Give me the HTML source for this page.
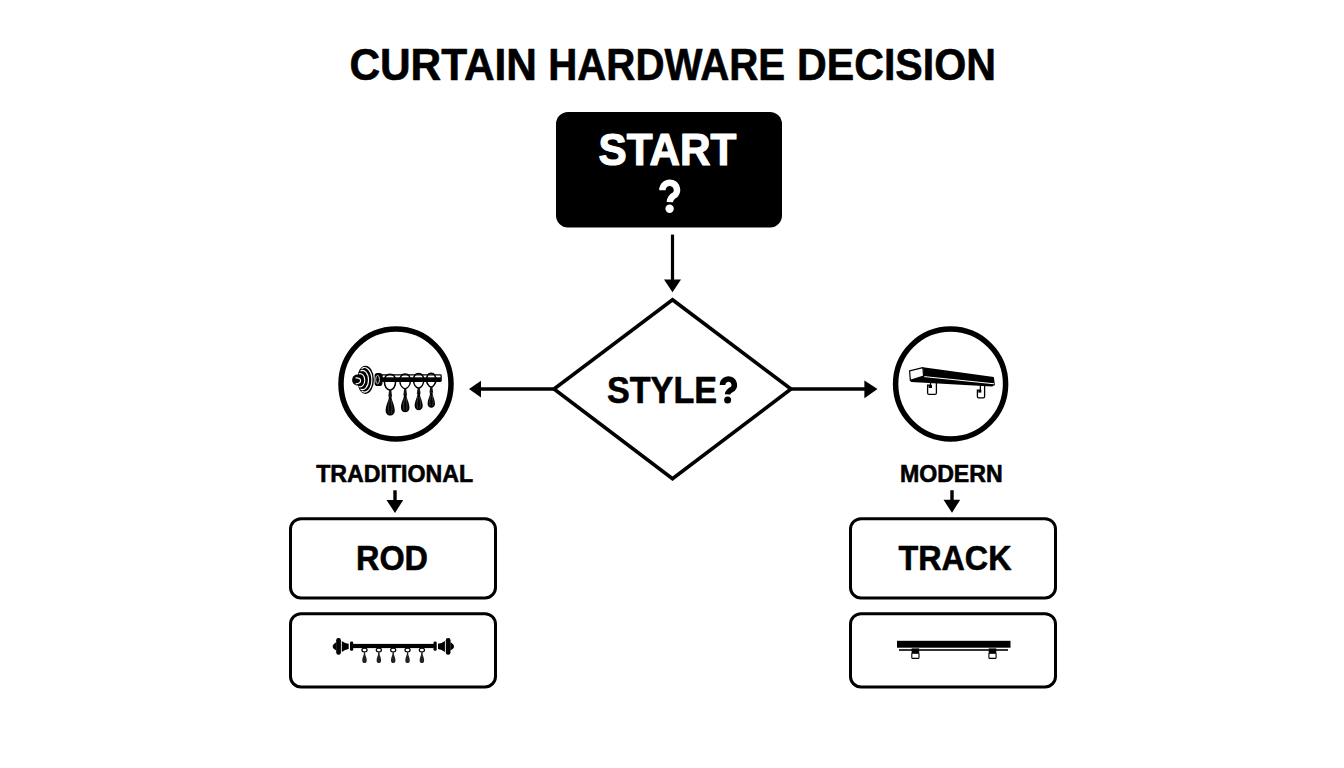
<!DOCTYPE html>
<html>
<head>
<meta charset="utf-8">
<style>
html,body{margin:0;padding:0;background:#fff;width:1344px;height:768px;overflow:hidden;}
svg{display:block;}
text{font-family:"Liberation Sans",sans-serif;font-weight:bold;fill:#000;stroke:#000;stroke-width:0.6;stroke-linejoin:round;}
</style>
</head>
<body>
<svg width="1344" height="768" viewBox="0 0 1344 768">
<rect x="0" y="0" width="1344" height="768" fill="#fff"/>

<!-- Title -->
<text x="349.4" y="79.7" font-size="44" textLength="187.6" lengthAdjust="spacingAndGlyphs">CURTAIN</text>
<text x="548.2" y="79.7" font-size="44" textLength="237" lengthAdjust="spacingAndGlyphs">HARDWARE</text>
<text x="797" y="79.7" font-size="44" textLength="199" lengthAdjust="spacingAndGlyphs">DECISION</text>

<!-- START box -->
<rect x="556" y="112" width="226" height="115.6" rx="12" ry="12" fill="#000"/>
<text id="t-start" x="598.6" y="165.0" font-size="44.2" textLength="137.8" lengthAdjust="spacingAndGlyphs" style="fill:#fff;stroke:#fff;stroke-width:1.2;stroke-linejoin:round">START</text>
<path id="t-q" d="M662.4,190.2 A7.3,7.3 0 1 1 675.4,194.6 Q670.0,197.4 669.8,202.2" fill="none" stroke="#fff" stroke-width="6.4" stroke-linejoin="round"/>
<circle cx="669.6" cy="208.8" r="4.2" fill="#fff"/>

<!-- arrow down -->
<line x1="672.5" y1="234.6" x2="672.5" y2="281" stroke="#000" stroke-width="3.2"/>
<polygon points="664,279.5 681,279.5 672.5,292.3" fill="#000"/>

<!-- diamond -->
<polygon points="672.5,299.8 791,389 672.5,478.8 554,389" fill="none" stroke="#000" stroke-width="3.6" stroke-linejoin="miter" stroke-miterlimit="10"/>
<text id="t-style" x="607" y="402.6" font-size="37" textLength="110" lengthAdjust="spacingAndGlyphs">STYLE</text>
<path d="M722.5,385.0 A5.9,5.9 0 1 1 732.9,388.8 Q727.8,391.4 727.6,394.4" fill="none" stroke="#000" stroke-width="5.6" stroke-linejoin="round"/>
<circle cx="727.6" cy="399.9" r="3.5" fill="#000"/>

<!-- side arrows -->
<line x1="554" y1="389" x2="479" y2="389" stroke="#000" stroke-width="3.3"/>
<polygon points="469,389 481,380.7 481,397.4" fill="#000"/>
<line x1="791" y1="389" x2="866" y2="389" stroke="#000" stroke-width="3.3"/>
<polygon points="877.5,389 864.4,380.4 864.4,398.2" fill="#000"/>

<!-- circles -->
<circle cx="396" cy="384" r="55" fill="#fff" stroke="#000" stroke-width="5.5"/>
<circle cx="950.6" cy="384" r="55" fill="#fff" stroke="#000" stroke-width="5.5"/>

<!-- labels -->
<text id="t-trad" x="316.2" y="482" font-size="24" textLength="157" lengthAdjust="spacingAndGlyphs">TRADITIONAL</text>
<text id="t-mod" x="899.9" y="482" font-size="24" textLength="102.8" lengthAdjust="spacingAndGlyphs">MODERN</text>

<!-- small arrows -->
<line x1="395" y1="490.3" x2="395" y2="502" stroke="#000" stroke-width="3.4"/>
<polygon points="386.5,500 403.2,500 395,513" fill="#000"/>
<line x1="952" y1="490.2" x2="952" y2="502" stroke="#000" stroke-width="3.4"/>
<polygon points="943.5,499.8 960.2,499.8 952,512.8" fill="#000"/>

<!-- boxes -->
<rect x="290.5" y="518.7" width="205" height="79.3" rx="10.5" fill="none" stroke="#000" stroke-width="3"/>
<rect x="290.5" y="613.7" width="205" height="73.2" rx="10.5" fill="none" stroke="#000" stroke-width="3"/>
<rect x="850.5" y="518.7" width="205" height="79.3" rx="10.5" fill="none" stroke="#000" stroke-width="3"/>
<rect x="850.5" y="613.7" width="205" height="73.2" rx="10.5" fill="none" stroke="#000" stroke-width="3"/>

<text id="t-rod" x="356" y="569.8" font-size="35" textLength="72" lengthAdjust="spacingAndGlyphs">ROD</text>
<text id="t-track" x="898.5" y="569.6" font-size="35" textLength="113" lengthAdjust="spacingAndGlyphs">TRACK</text>

<!--ICONS-->
<g id="rod-circle">
<rect x="380" y="374.3" width="61.8" height="7.7" rx="1.4" fill="#000"/>
<rect x="382.5" y="375.5" width="58" height="1.8" fill="#fff"/>
<path d="M390.00,390.30 C386.64,389.30 384.40,385.80 384.40,381.30 C384.40,375.80 386.92,374.30 390.00,374.30 C393.08,374.30 395.60,375.80 395.60,381.30 C395.60,385.80 393.36,389.30 390.00,390.30 Z" fill="none" stroke="#000" stroke-width="1.5" stroke-linejoin="round"/>
<path d="M405.10,389.00 C401.98,388.00 399.90,384.50 399.90,381.00 C399.90,375.50 402.24,374.00 405.10,374.00 C407.96,374.00 410.30,375.50 410.30,381.00 C410.30,384.50 408.22,388.00 405.10,389.00 Z" fill="none" stroke="#000" stroke-width="1.5" stroke-linejoin="round"/>
<path d="M418.60,388.30 C415.54,387.30 413.50,383.80 413.50,380.60 C413.50,375.10 415.80,373.60 418.60,373.60 C421.41,373.60 423.70,375.10 423.70,380.60 C423.70,383.80 421.66,387.30 418.60,388.30 Z" fill="none" stroke="#000" stroke-width="1.5" stroke-linejoin="round"/>
<path d="M431.20,387.30 C428.44,386.30 426.60,382.80 426.60,380.20 C426.60,374.70 428.67,373.20 431.20,373.20 C433.73,373.20 435.80,374.70 435.80,380.20 C435.80,382.80 433.96,386.30 431.20,387.30 Z" fill="none" stroke="#000" stroke-width="1.5" stroke-linejoin="round"/>
<path d="M389.20,389.80 L391.20,389.80 L392.10,396.80 L388.30,396.80 Z" fill="#111"/>
<path d="M391.40,396.40 C391.47,400.40 394.75,404.80 394.75,410.40 C394.75,417.20 385.65,417.20 385.65,410.40 C385.65,404.80 388.93,400.40 389.00,396.40 Z" fill="#000"/>
<path d="M389.40,399.40 Q387.80,408.40 389.00,413.90 M391.10,399.40 Q392.80,408.40 391.60,413.90" fill="none" stroke="#fff" stroke-width="0.45" opacity="0.5"/>
<path d="M404.20,388.50 L406.20,388.50 L407.10,395.50 L403.30,395.50 Z" fill="#111"/>
<path d="M406.40,395.10 C406.39,398.68 409.45,402.62 409.45,407.63 C409.45,413.72 400.95,413.72 400.95,407.63 C400.95,402.62 404.01,398.68 404.00,395.10 Z" fill="#000"/>
<path d="M404.40,398.10 Q402.80,406.05 404.00,410.50 M406.10,398.10 Q407.80,406.05 406.60,410.50" fill="none" stroke="#fff" stroke-width="0.45" opacity="0.5"/>
<path d="M417.70,387.80 L419.70,387.80 L420.60,394.10 L416.80,394.10 Z" fill="#111"/>
<path d="M419.90,393.70 C419.83,397.16 422.75,400.97 422.75,405.81 C422.75,411.69 414.65,411.69 414.65,405.81 C414.65,400.97 417.57,397.16 417.50,393.70 Z" fill="#000"/>
<path d="M417.90,396.70 Q416.30,404.35 417.50,408.50 M419.60,396.70 Q421.30,404.35 420.10,408.50" fill="none" stroke="#fff" stroke-width="0.45" opacity="0.5"/>
<path d="M430.30,386.80 L432.30,386.80 L433.20,392.80 L429.40,392.80 Z" fill="#111"/>
<path d="M432.50,392.40 C432.34,395.64 435.00,399.20 435.00,403.74 C435.00,409.25 427.60,409.25 427.60,403.74 C427.60,399.20 430.26,395.64 430.10,392.40 Z" fill="#000"/>
<path d="M430.50,395.40 Q428.90,402.50 430.10,406.10 M432.20,395.40 Q433.90,402.50 432.70,406.10" fill="none" stroke="#fff" stroke-width="0.45" opacity="0.5"/>
<rect x="374.6" y="373" width="7.8" height="13" rx="2.8" fill="#000"/>
<ellipse cx="377.6" cy="379.6" rx="1.9" ry="4.2" fill="none" stroke="#fff" stroke-width="0.8"/>
<ellipse cx="365.5" cy="379.8" rx="8.45" ry="14.1" fill="#000"/>
<path d="M361.51,368.74 A7.3,12.2 0 1 1 361.51,390.86" fill="none" stroke="#fff" stroke-width="1.15"/>
<path d="M360.45,370.98 A6.0,9.6 0 1 1 360.45,389.02" fill="none" stroke="#fff" stroke-width="1.15"/>
<path d="M358.76,373.82 A4.8,6.6 0 1 1 358.76,386.58" fill="none" stroke="#fff" stroke-width="1.1"/>
<ellipse cx="356.9" cy="380.0" rx="4.8" ry="5.4" fill="#000"/>
<path d="M355.4,378.0 Q360.6,377.6 360.6,380.6 Q360.6,383.8 355.6,383.8" fill="none" stroke="#fff" stroke-width="1.2"/>
</g>
<g id="track-circle">
<path d="M930.6,378.5 L936.4,378.5 L936.4,392.9 Q936.4,394.4 934.9,394.4 L929.0,394.4 Q927.6,394.4 927.6,392.9 L927.6,385.2 L930.6,385.2 Z" fill="#fff" stroke="#000" stroke-width="1.3"/>
<rect x="928.6" y="385" width="3.4" height="3" fill="#000"/>
<path d="M980.4,384.0 L984.6,384.0 L984.6,396.6 Q984.6,397.9 983.3,397.9 L978.6,397.9 Q977.4,397.9 977.4,396.6 L977.4,390.2 L980.4,390.2 Z" fill="#fff" stroke="#000" stroke-width="1.3"/>
<rect x="978.3" y="390" width="3" height="2.6" fill="#000"/>
<polygon points="923,367.3 993.8,376.9 995,385.0 992,386.6 911,381.9 910.2,380.6 923.8,376.1" fill="#000"/>
<line x1="924.2" y1="376.6" x2="994.3" y2="383.8" stroke="#fff" stroke-width="1.0"/>
<polygon points="909.6,370.8 922.9,367.6 923.6,376.1 910.3,380.4" fill="#fff" stroke="#000" stroke-width="1.2" stroke-linejoin="round"/>
</g>
<g id="rod-box">
<rect x="352" y="643.9" width="83" height="4.2" fill="#000"/>
<ellipse cx="364.50" cy="650.1" rx="2.6" ry="1.9" fill="none" stroke="#000" stroke-width="1.2"/>
<rect x="363.90" y="651.6" width="1.2" height="2.4" fill="#222"/>
<path d="M365.00,653.00 C365.13,655.12 366.75,657.45 366.75,660.42 C366.75,664.02 362.25,664.02 362.25,660.42 C362.25,657.45 363.87,655.12 364.00,653.00 Z" fill="#222"/>
<ellipse cx="378.85" cy="650.1" rx="2.6" ry="1.9" fill="none" stroke="#000" stroke-width="1.2"/>
<rect x="378.25" y="651.6" width="1.2" height="2.4" fill="#222"/>
<path d="M379.35,653.00 C379.48,655.12 381.10,657.45 381.10,660.42 C381.10,664.02 376.60,664.02 376.60,660.42 C376.60,657.45 378.22,655.12 378.35,653.00 Z" fill="#222"/>
<ellipse cx="393.20" cy="650.1" rx="2.6" ry="1.9" fill="none" stroke="#000" stroke-width="1.2"/>
<rect x="392.60" y="651.6" width="1.2" height="2.4" fill="#222"/>
<path d="M393.70,653.00 C393.83,655.12 395.45,657.45 395.45,660.42 C395.45,664.02 390.95,664.02 390.95,660.42 C390.95,657.45 392.57,655.12 392.70,653.00 Z" fill="#222"/>
<ellipse cx="407.55" cy="650.1" rx="2.6" ry="1.9" fill="none" stroke="#000" stroke-width="1.2"/>
<rect x="406.95" y="651.6" width="1.2" height="2.4" fill="#222"/>
<path d="M408.05,653.00 C408.18,655.12 409.80,657.45 409.80,660.42 C409.80,664.02 405.30,664.02 405.30,660.42 C405.30,657.45 406.92,655.12 407.05,653.00 Z" fill="#222"/>
<ellipse cx="421.90" cy="650.1" rx="2.6" ry="1.9" fill="none" stroke="#000" stroke-width="1.2"/>
<rect x="421.30" y="651.6" width="1.2" height="2.4" fill="#222"/>
<path d="M422.40,653.00 C422.53,655.12 424.15,657.45 424.15,660.42 C424.15,664.02 419.65,664.02 419.65,660.42 C419.65,657.45 421.27,655.12 421.40,653.00 Z" fill="#222"/>
<g><path d="M336.4,642.3 Q332.4,644.6 332.7,646.4 Q332.4,648.2 336.4,650.5 Z" fill="#000"/><rect x="336.2" y="638" width="4.7" height="16.8" rx="2.2" fill="#000"/><path d="M341.8,640.9 Q345,643.3 348.7,643.7 L348.7,649.1 Q345,649.5 341.8,651.9 Z" fill="#000"/><rect x="350" y="641.6" width="3.2" height="9.1" rx="1.3" fill="#000"/></g>
<g transform="translate(786.7,0) scale(-1,1)"><path d="M336.4,642.3 Q332.4,644.6 332.7,646.4 Q332.4,648.2 336.4,650.5 Z" fill="#000"/><rect x="336.2" y="638" width="4.7" height="16.8" rx="2.2" fill="#000"/><path d="M341.8,640.9 Q345,643.3 348.7,643.7 L348.7,649.1 Q345,649.5 341.8,651.9 Z" fill="#000"/><rect x="350" y="641.6" width="3.2" height="9.1" rx="1.3" fill="#000"/></g>
</g>
<g id="track-box">
<rect x="897" y="640.8" width="113.5" height="6.9" fill="#000"/>
<rect x="899" y="649.2" width="109" height="1.6" fill="#000"/>
<rect x="911.80" y="653" width="7.2" height="5.4" rx="1" fill="#fff" stroke="#000" stroke-width="1.1"/>
<rect x="911.60" y="648.4" width="7.6" height="5.2" fill="#000"/>
<rect x="988.90" y="653" width="7.2" height="5.4" rx="1" fill="#fff" stroke="#000" stroke-width="1.1"/>
<rect x="988.70" y="648.4" width="7.6" height="5.2" fill="#000"/>
</g>
<!--/ICONS-->
</svg>
</body>
</html>
